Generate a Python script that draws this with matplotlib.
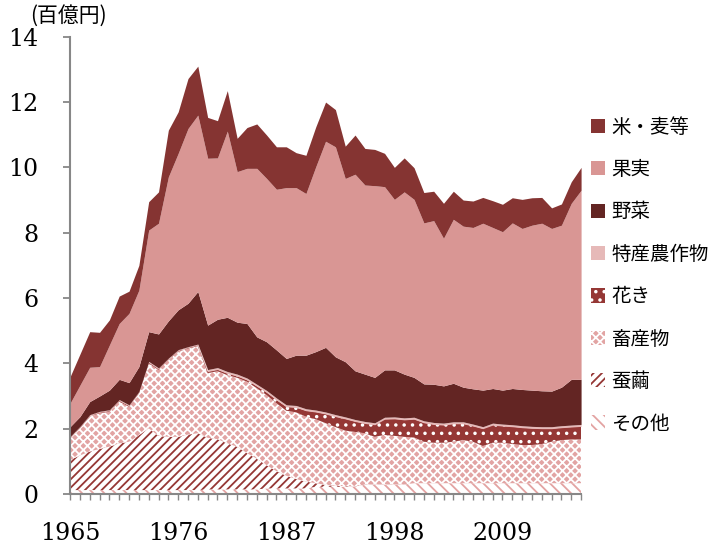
import numpy as np
import matplotlib
matplotlib.use("Agg")
import matplotlib.pyplot as plt

# data (百億円), 1965-2017
years = list(range(1965, 2018))
tick_years = [1965, 1976, 1987, 1998, 2009]

other = [0.12] * 14 + [0.14] * 6 + [0.17] * 5 + [0.22] * 5 + [0.28] * 5 + [0.33] * 18
silk = [0.92, 1.06, 1.18, 1.26, 1.33, 1.43, 1.48, 1.68, 1.89, 1.66, 1.63, 1.63, 1.70, 1.74,
        1.58, 1.54, 1.41, 1.31, 1.11, 0.94, 0.71, 0.53, 0.39, 0.29, 0.21, 0.11, 0.06, 0.03,
        0.02, 0.01, 0.01, 0.01, 0.01, 0.01, 0.01, 0.0, 0.0, 0.0, 0.0, 0.0, 0.0, 0.0, 0.0,
        0.0, 0.0, 0.0, 0.0, 0.0, 0.0, 0.0, 0.0, 0.0, 0.0]
livestock = [0.66, 0.83, 1.07, 1.09, 1.07, 1.28, 1.07, 1.28, 1.99, 2.02, 2.35, 2.61, 2.63, 2.67,
             1.98, 2.08, 2.09, 2.11, 2.19, 2.16, 2.15, 2.08, 1.99, 2.04, 1.99, 1.96, 1.89, 1.80,
             1.70, 1.67, 1.57, 1.46, 1.52, 1.49, 1.46, 1.40, 1.27, 1.24, 1.24, 1.27, 1.32, 1.27,
             1.14, 1.24, 1.24, 1.20, 1.17, 1.17, 1.20, 1.27, 1.32, 1.34, 1.34]
flowers = [0.03] * 14 + [0.05] * 5 + [0.06, 0.08, 0.10, 0.12, 0.15, 0.18, 0.22, 0.28, 0.32,
           0.36, 0.32, 0.30, 0.37, 0.48, 0.52, 0.52, 0.56, 0.58, 0.56, 0.54, 0.55, 0.50, 0.48,
           0.53, 0.54, 0.51, 0.53, 0.53, 0.51, 0.47, 0.40, 0.38, 0.38, 0.40]
special = [0.03] * 14 + [0.06] * 39
vegetables = [0.30, 0.30, 0.40, 0.47, 0.60, 0.62, 0.68, 0.76, 0.91, 1.04, 1.14, 1.22, 1.33, 1.61,
              1.36, 1.48, 1.66, 1.59, 1.67, 1.45, 1.49, 1.47, 1.42, 1.54, 1.64, 1.79, 1.98, 1.77,
              1.69, 1.49, 1.45, 1.39, 1.45, 1.44, 1.34, 1.22, 1.13, 1.17, 1.14, 1.18, 1.06, 1.08,
              1.12, 1.06, 1.04, 1.11, 1.11, 1.11, 1.10, 1.09, 1.18, 1.40, 1.38]
fruit = [0.72, 0.96, 1.05, 0.90, 1.38, 1.71, 2.12, 2.34, 3.11, 3.39, 4.41, 4.79, 5.35, 5.40,
         5.11, 4.94, 5.70, 4.61, 4.75, 5.16, 5.00, 4.92, 5.23, 5.13, 4.95, 5.66, 6.31, 6.43,
         5.61, 6.02, 5.79, 5.87, 5.61, 5.22, 5.58, 5.45, 4.93, 5.01, 4.52, 5.02, 4.93, 4.94,
         5.11, 4.93, 4.85, 5.07, 4.93, 5.05, 5.13, 4.98, 4.96, 5.39, 5.79]
rice = [0.81, 0.95, 1.09, 1.05, 0.77, 0.84, 0.68, 0.76, 0.87, 0.96, 1.43, 1.27, 1.53, 1.50,
        1.25, 1.14, 1.24, 1.02, 1.25, 1.36, 1.33, 1.30, 1.25, 1.07, 1.17, 1.22, 1.20, 1.14,
        0.99, 1.20, 1.12, 1.11, 1.02, 0.98, 1.04, 0.97, 0.93, 0.90, 1.07, 0.86, 0.80, 0.81,
        0.79, 0.82, 0.84, 0.77, 0.89, 0.84, 0.79, 0.63, 0.65, 0.66, 0.70]

plt.rcParams["hatch.linewidth"] = 1.3
num_font = "DejaVu Serif"
jp_font = ["Noto Sans CJK JP", "DejaVu Sans"]

fig = plt.figure(figsize=(7.15, 5.45), dpi=100)
ax = fig.add_axes([0.098, 0.0936, 0.7147, 0.839])

# bottom to top: label, values, face, hatch colour, hatch
layers = [
    ("その他", other, "white", "#E3A3A2", "\\\\\\"),
    ("蚕繭", silk, "white", "#953735", "////"),
    ("畜産物", livestock, "#E2A4A3", "white", "xxxx"),
    ("花き", flowers, "#953735", "white", ".."),
    ("特産農作物", special, "#E6B9B8", "#E6B9B8", None),
    ("野菜", vegetables, "#632523", "#632523", None),
    ("果実", fruit, "#D99694", "#D99694", None),
    ("米・麦等", rice, "#853432", "#853432", None),
]

base = np.zeros(len(years))
handles = []
for label, vals, face, edge, hatch in layers:
    top = base + np.array(vals)
    h = ax.fill_between(years, base, top, facecolor=face, edgecolor=edge,
                        hatch=hatch, linewidth=0, label=label)
    handles.append(h)
    base = top

ax.set_xlim(years[0], years[-1])
ax.set_ylim(0, 14)
ax.set_yticks(range(0, 15, 2))
ax.set_xticks(years)
ax.set_xticklabels([str(y) if y in tick_years else "" for y in years])

for s in ["top", "right"]:
    ax.spines[s].set_visible(False)
for s in ["left", "bottom"]:
    ax.spines[s].set_color("#878787")
    ax.spines[s].set_linewidth(1.5)
ax.tick_params(axis="x", direction="out", length=4, width=1, color="#878787", pad=16)
ax.tick_params(axis="y", direction="out", length=5, width=1.3, color="#878787", pad=18)
for t in ax.get_xticklabels() + ax.get_yticklabels():
    t.set_fontfamily(num_font)
    t.set_fontsize(17)

fig.text(0.042, 0.992, "(百億円)", fontsize=15, family=jp_font, va="top", ha="left")

ax.legend(handles[::-1], [l[0] for l in layers][::-1], loc="upper left",
          bbox_to_anchor=(0.826, 0.786), bbox_transform=fig.transFigure,
          frameon=False, prop={"family": jp_font, "size": 14}, borderpad=0,
          borderaxespad=0, handlelength=0.75, handleheight=0.75,
          handletextpad=0.3, labelspacing=1.1)

fig.savefig("out.png", dpi=100)
